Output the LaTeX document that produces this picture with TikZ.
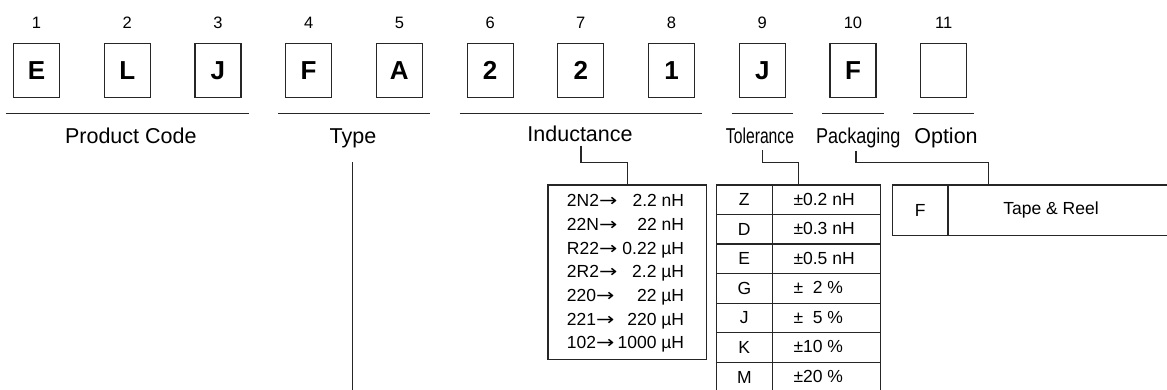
\documentclass[tikz,border=0pt]{standalone}
\usepackage{fontspec}
\usepackage{graphicx}
\setmainfont{Liberation Sans}
\newfontfamily\arrowfont{DejaVu Sans}
\newcommand{\rarr}{{\arrowfont\scalebox{1.25}[1]{→}}}
\usetikzlibrary{calc}
\begin{document}
\begin{tikzpicture}[x=1pt,y=-1pt,
  digit/.style={draw=black!85, line width=1.2pt, minimum width=46pt, minimum height=54pt, inner sep=0pt, font=\fontsize{26}{26}\selectfont\bfseries},
  posnum/.style={inner sep=0pt, font=\fontsize{16.5}{16.5}\selectfont},
  lab/.style={anchor=base, inner sep=0pt, font=\fontsize{21.5}{21.5}\selectfont},
  ln/.style={draw=black!85, line width=1.2pt},
  sm/.style={inner sep=0pt, font=\fontsize{17.5}{17.5}\selectfont},
  cell/.style={draw=black!85, line width=1.2pt, minimum height=29.57pt, inner sep=0pt, anchor=north west},
]
\useasboundingbox (0,0) rectangle (1167,389);

% code boxes and position numbers
\foreach \i/\t in {1/E,2/L,3/J,4/F,5/A,6/2,7/2,8/1,9/J,10/F,11/{}}{
  \node[digit] (b\i) at ({36.5+(\i-1)*90.72},70.85) {\t};
  \node[posnum] (n\i) at ({36.5+(\i-1)*90.72},23) {\i};
}

% underlines
\draw[ln] ([xshift=-7pt,yshift=-15pt]b1.south west) -- ([xshift=7pt,yshift=-15pt]b3.south east);
\draw[ln] ([xshift=-7pt,yshift=-15pt]b4.south west) -- ([xshift=7pt,yshift=-15pt]b5.south east);
\draw[ln] ([xshift=-7pt,yshift=-15pt]b6.south west) -- ([xshift=7pt,yshift=-15pt]b8.south east);
\draw[ln] ([xshift=-7pt,yshift=-15pt]b9.south west) -- ([xshift=7pt,yshift=-15pt]b9.south east);
\draw[ln] ([xshift=-7pt,yshift=-15pt]b10.south west) -- ([xshift=7pt,yshift=-15pt]b10.south east);
\draw[ln] ([xshift=-7pt,yshift=-15pt]b11.south west) -- ([xshift=7pt,yshift=-15pt]b11.south east);

% group labels
\node[lab] (lpc) at (130.8,143) {Product Code};
\node[lab] (lty) at (353,143) {Type};
\node[lab] (lin) at (580,141) {Inductance};
\node[lab] (lto) at (760,143) {\scalebox{0.73}[1]{Tolerance}};
\node[lab] (lpk) at (858.3,143) {\scalebox{0.84}[1]{Packaging}};
\node[lab] (lop) at (946,143) {Option};

% inductance box
\node[draw=black!85, line width=1.2pt, minimum width=158.4pt, minimum height=174.7pt, inner sep=0pt, anchor=north west] (ibox) at (547.3,184.3) {};
\foreach \c/\v [count=\k from 0] in {2N2/2.2 nH, 22N/22 nH, R22/0.22 µH, 2R2/2.2 µH, 220/22 µH, 221/220 µH, 102/1000 µH}{
  \node[sm, anchor=base west] (ic\k) at (566.7,{206.7+23.7*\k}) {\c\rarr};
  \node[sm, anchor=base east] (iv\k) at (684.3,{206.7+23.7*\k}) {\v};
}

% tolerance table
\foreach \l/\v [count=\k from 0] in {Z/{±0.2 nH}, D/{±0.3 nH}, E/{±0.5 nH}, G/{±\hphantom{1}2 \%}, J/{±\hphantom{1}5 \%}, K/{±10 \%}, M/{±20 \%}}{
  \node[cell, minimum width=56pt] (tl\k) at (715.7,{184.3+29.57*\k}) {};
  \node[cell, minimum width=108.3pt] (tv\k) at (771.7,{184.3+29.57*\k}) {};
  \node[sm] (tlt\k) at (tl\k.center) {\l};
  \node[sm, anchor=west] (tvt\k) at (793.3,{199.1+29.57*\k}) {\v};
}

% packaging box
\node[cell, minimum width=55.6pt, minimum height=50.7pt] (pf) at (891.7,184.3) {};
\node[cell, minimum width=226pt, minimum height=50.7pt] (pt) at (947.3,184.3) {};
\node[sm] (pft) at (pf.center) {F};
\node[sm] (ptt) at (1051,209.65) {Tape \& Reel};

% connectors
\coordinate (ci) at (581,145.7);
\draw[ln] (ci) -- ++(0,16.6) -| (ibox.north);
\coordinate (ct) at (762.5,150);
\draw[ln] (ct) -- ++(0,12.3) -| ([xshift=26.8pt]tv0.north west);
\coordinate (cp) at (856,150.7);
\draw[ln] (cp) -- ++(0,11.6) -| ([xshift=41.4pt]pt.north west);
\coordinate (cy) at (352.3,162.3);
\coordinate (cyb) at (352.3,395);
\draw[ln] (cy) -- (cyb);
\end{tikzpicture}
\end{document}
